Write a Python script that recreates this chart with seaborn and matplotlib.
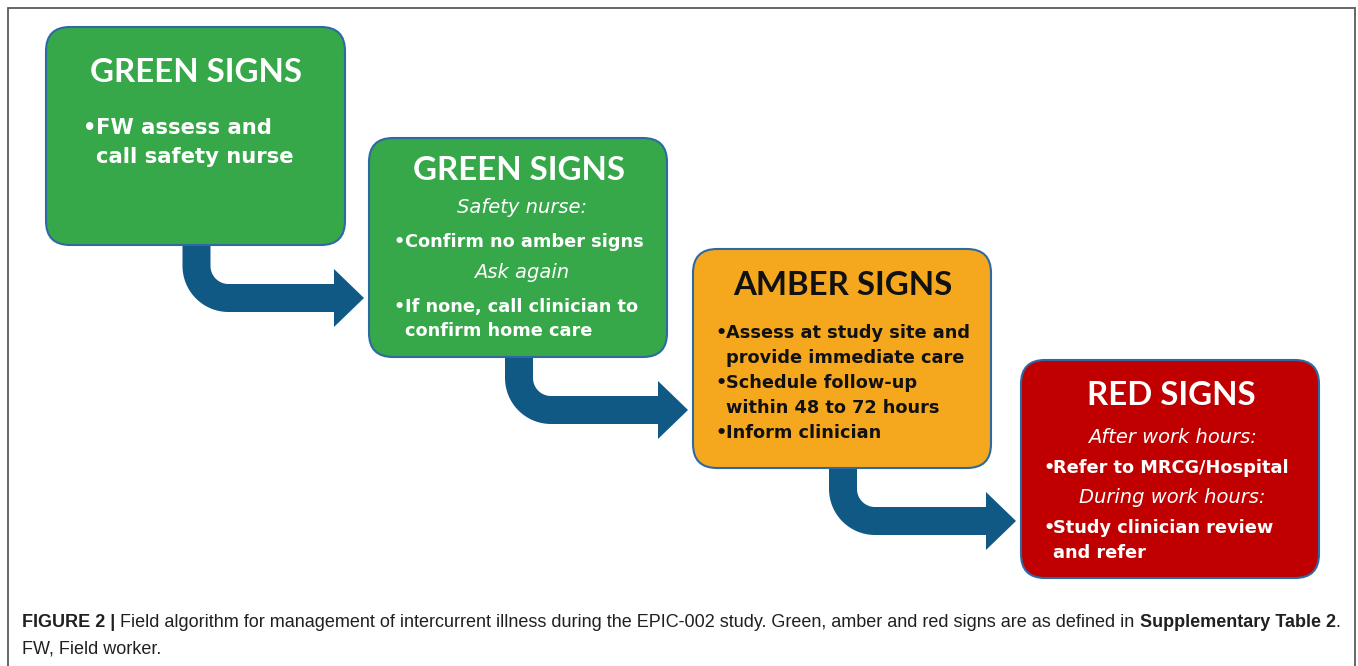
import matplotlib
matplotlib.use("Agg")
import matplotlib.pyplot as plt
from matplotlib.patches import FancyBboxPatch, Polygon
import numpy as np
import seaborn as sns

sns.set_theme(style="white")
plt.rcParams['font.family'] = ['DejaVu Sans']

# ---- content ----
titles = ["GREEN SIGNS", "GREEN SIGNS", "AMBER SIGNS", "RED SIGNS"]
# b = bullet line, c = continuation of bullet, i = italic sub-heading
box_text = [
    [("b", "FW assess and"), ("c", "call safety nurse")],
    [("i", "Safety nurse:"), ("b", "Confirm no amber signs"), ("i", "Ask again"),
     ("b", "If none, call clinician to"), ("c", "confirm home care")],
    [("b", "Assess at study site and"), ("c", "provide immediate care"),
     ("b", "Schedule follow-up"), ("c", "within 48 to 72 hours"),
     ("b", "Inform clinician")],
    [("i", "After work hours:"), ("b", "Refer to MRCG/Hospital"),
     ("i", "During work hours:"), ("b", "Study clinician review"),
     ("c", "and refer")],
]
caption_1 = [("FIGURE 2 | ", "bold"),
             ("Field algorithm for management of intercurrent illness during the "
              "EPIC-002 study. Green, amber and red signs are as defined in ", "normal"),
             ("Supplementary Table 2", "bold"),
             (".", "normal")]
caption_2 = "FW, Field worker."

fills = ["#36a849", "#36a849", "#f5a81d", "#c00000"]
ink = ["white", "white", "#111111", "white"]
arrow_col = "#105985"
edge_col = "#2d6aa3"

# ---- layout (pixels, y pointing down) ----
boxes = [(46, 27, 299, 218), (369, 138, 298, 219),
         (693, 249, 298, 219), (1021, 360, 298, 218)]
title_y = [82, 180, 295, 405]
line_y = [[134, 163], [213, 247, 278, 312, 336],
          [338, 363, 388, 413, 438], [443, 473, 503, 533, 558]]
bullet_dx = [37, 24, 22, 22]
text_dx = [50, 36, 33, 32]
body_size = [15.2, 12.8, 12.8, 12.8]
ital_size = 14
ital_dx = [0, 4, 2, 2]

fig = plt.figure(figsize=(13.58, 6.66), dpi=100)
ax = fig.add_axes([0, 0, 1, 1])
ax.set_xlim(0, 1358)
ax.set_ylim(666, 0)
ax.axis('off')

# outer frame
ax.plot([7.5, 7.5, 1355, 1355], [666, 8, 8, 666], color="#5a5a5a", lw=1.3,
        solid_joinstyle='miter')


def bent_arrow(cx, y0, cy, tip, w=28, ri=18, hh=29, hl=30):
    L, R = cx - w / 2, cx + w / 2
    T, B = cy - w / 2, cy + w / 2
    ro = ri + w
    ccx, ccy = R + ri, T - ri
    th = np.linspace(np.pi, np.pi / 2, 30)
    outer = np.c_[ccx + ro * np.cos(th), ccy + ro * np.sin(th)]
    inner = np.c_[ccx + ri * np.cos(th[::-1]), ccy + ri * np.sin(th[::-1])]
    pts = [(L, y0)] + outer.tolist() + [(tip - hl, B), (tip - hl, cy + hh), (tip, cy),
                                         (tip - hl, cy - hh), (tip - hl, T)] \
        + inner.tolist() + [(R, y0)]
    return Polygon(pts, closed=True, facecolor=arrow_col, edgecolor='none', zorder=1)


for k in range(3):
    x, y, w, h = boxes[k]
    nx = boxes[k + 1][0]
    ax.add_patch(bent_arrow(x + w / 2 + 1, y + h - 6, y + h + 53, nx - 5))

for k, (x, y, w, h) in enumerate(boxes):
    ax.add_patch(FancyBboxPatch((x, y), w, h, boxstyle="round,pad=0,rounding_size=24",
                                facecolor=fills[k], edgecolor=edge_col, lw=1.5, zorder=2))
    ax.text(x + w / 2 + 1, title_y[k], titles[k], ha='center', va='baseline',
            fontsize=23.8, fontweight='bold', family='Lato', color=ink[k], zorder=3)
    for (kind, s), yy in zip(box_text[k], line_y[k]):
        if kind == "i":
            ax.text(x + w / 2 + ital_dx[k], yy, s, ha='center', va='baseline',
                    fontsize=ital_size, fontstyle='italic', color=ink[k], zorder=3)
        else:
            if kind == "b":
                ax.text(x + bullet_dx[k], yy, "\u2022", ha='left', va='baseline',
                        fontsize=body_size[k], fontweight='bold', color=ink[k], zorder=3)
            ax.text(x + text_dx[k], yy, s, ha='left', va='baseline', fontsize=body_size[k],
                    fontweight='bold', color=ink[k], zorder=3)

# caption with mixed weights
fig.canvas.draw()
rend = fig.canvas.get_renderer()
cx = 22
for s, wt in caption_1:
    t = ax.text(cx, 627, s, ha='left', va='baseline', fontsize=12.95, fontweight=wt,
                family='Liberation Sans', color="#231f20")
    cx += t.get_window_extent(rend).width
ax.text(22, 653, caption_2, ha='left', va='baseline', fontsize=12.95,
        family='Liberation Sans', color="#231f20")

fig.savefig("out.png", dpi=100)
